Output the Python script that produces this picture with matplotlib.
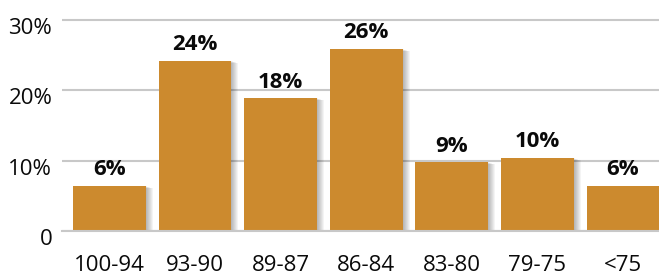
import matplotlib.pyplot as plt
import matplotlib.transforms as mtransforms

# grade ranges and share of students (bar heights)
categories = ['100-94', '93-90', '89-87', '86-84', '83-80', '79-75', '<75']
shares = [6.4, 24.2, 18.9, 25.9, 9.8, 10.4, 6.4]
bar_labels = ['6%', '24%', '18%', '26%', '9%', '10%', '6%']
y_ticks = [0, 10, 20, 30]
y_tick_labels = ['0', '10%', '20%', '30%']

bar_color = '#CC8A2E'
grid_color = '#C8C8C8'

plt.rcParams['font.family'] = ['Open Sans', 'DejaVu Sans']

fig = plt.figure(figsize=(6.59, 2.75), dpi=100)
ax = fig.add_axes([62 / 659, 44 / 275, 597 / 659, 218 / 275])

x = list(range(len(categories)))

# soft drop shadow to the right of each bar
for k in range(1, 8):
    shift = mtransforms.ScaledTranslation(k / 100, -k / 300, fig.dpi_scale_trans)
    ax.bar(x, shares, width=0.85, color='#000000', alpha=0.045,
           transform=ax.transData + shift, zorder=1, linewidth=0)

ax.bar(x, shares, width=0.85, color=bar_color, zorder=2, linewidth=0)

for xi, h, lab in zip(x, shares, bar_labels):
    ax.annotate(lab, (xi, h), xytext=(0, 4), textcoords='offset points',
                ha='center', va='bottom', fontsize=16, fontweight='bold',
                color='#0a0a0a')

ax.set_xlim(-0.555, 6.42)
ax.set_ylim(0, 31)
ax.yaxis.grid(True, color=grid_color, linewidth=1.5, zorder=0)
ax.set_axisbelow(True)
ax.set_yticks(y_ticks)
ax.set_yticklabels(y_tick_labels, fontsize=16, color='#0a0a0a')
ax.set_xticks(x)
ax.set_xticklabels(categories, fontsize=16, color='#0a0a0a')
ax.tick_params(axis='both', length=0)
ax.tick_params(axis='y', pad=7)
ax.tick_params(axis='x', pad=17)

# nudge the y labels a little below their gridlines
down = mtransforms.ScaledTranslation(0, -6 / 100, fig.dpi_scale_trans)
for t in ax.get_yticklabels():
    t.set_transform(t.get_transform() + down)

for side in ['top', 'right', 'left']:
    ax.spines[side].set_visible(False)
ax.spines['bottom'].set_color(grid_color)
ax.spines['bottom'].set_linewidth(1.5)

fig.savefig('out.png', dpi=100)
